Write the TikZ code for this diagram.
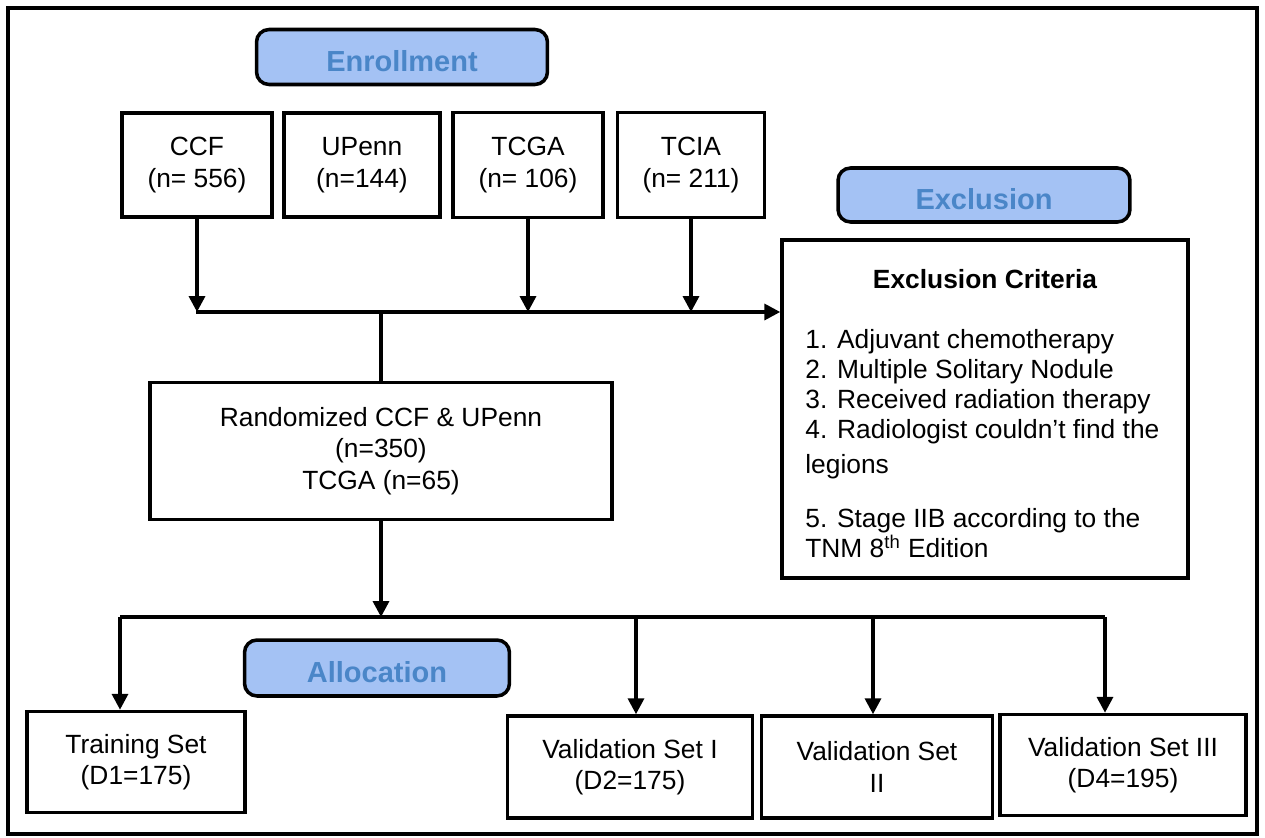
\documentclass[tikz,border=0pt]{standalone}
\usepackage{fontspec}
\setmainfont{Liberation Sans}
\usetikzlibrary{arrows.meta}
\definecolor{headfill}{RGB}{164,194,244}
\definecolor{headtext}{RGB}{74,134,200}

\begin{document}
\begin{tikzpicture}[x=0.02cm,y=-0.02cm,
		box/.style={draw,line width=2pt,align=center,inner sep=2pt,font=\fontsize{15}{18}\selectfont},
		phase/.style={draw,line width=2pt,rounded corners=2.5mm,fill=headfill,text=headtext,inner sep=0pt,text height=16pt,text depth=0pt,font=\fontsize{16.5}{18}\selectfont\bfseries},
		link/.style={line width=2pt},
		arr/.style={link,-{Triangle[width=9pt,length=9pt]}}]
		\useasboundingbox (0,0) rectangle (1265,838);
		\draw[line width=2pt] (8,8) rectangle (1257,834);
		% sources
		\coordinate (c_enr) at (402,57);
		\coordinate (c_ccf) at (197,165);
		\coordinate (c_upenn) at (362,165);
		\coordinate (c_tcga) at (528,165);
		\coordinate (c_tcia) at (691,165);
		\coordinate (c_exh) at (984,195);
		\coordinate (c_exc) at (985,409);
		\coordinate (c_rand) at (381,451);
		\coordinate (c_alloc) at (377,668);
		\coordinate (c_train) at (136,762);
		\coordinate (c_val1) at (630,767);
		\coordinate (c_val2) at (877,767);
		\coordinate (c_val3) at (1123,765);
		% bus lines
		\coordinate (bus) at (196,312);
		\coordinate (split) at (383,617);
		\coordinate (s_1) at (120,617);
		\coordinate (s_2) at (636,617);
		\coordinate (s_3) at (873,617);
		\coordinate (s_4) at (1105,617);

		\node[phase,minimum width=5.82cm,minimum height=1.1cm] (enr) at (c_enr) {Enrollment};
		\node[box,minimum width=3cm,minimum height=2.08cm] (ccf) at (c_ccf) {CCF\\(n= 556)};
		\node[box,minimum width=3.12cm,minimum height=2.08cm] (upenn) at (c_upenn) {UPenn\\(n=144)};
		\node[box,minimum width=3cm,minimum height=2.1cm] (tcga) at (c_tcga) {TCGA\\(n= 106)};
		\node[box,minimum width=2.94cm,minimum height=2.1cm] (tcia) at (c_tcia) {TCIA\\(n= 211)};
		\node[phase,minimum width=5.84cm,minimum height=1.08cm] (exh) at (c_exh) {Exclusion};
		\node[box,minimum width=8.12cm,minimum height=6.76cm] (exc) at (c_exc) {};
		\node[font=\fontsize{15}{18}\selectfont\bfseries] (exctitle) at (985,279) {Exclusion Criteria};
		\node[anchor=north west,align=left,inner sep=0pt,font=\fontsize{15}{17}\selectfont] (exclist) at (805,329)
			{1. Adjuvant chemotherapy\\2. Multiple Solitary Nodule\\3. Received radiation therapy\\4. Radiologist couldn’t find the\\[3pt]legions\\[14pt]5. Stage IIB according to the\\TNM 8\textsuperscript{th} Edition};
		\node[box,minimum width=9.24cm,minimum height=2.74cm] (rand) at (c_rand) {Randomized CCF \& UPenn\\(n=350)\\TCGA (n=65)};
		\node[phase,minimum width=5.3cm,minimum height=1.12cm] (alloc) at (c_alloc) {Allocation};
		\node[box,minimum width=4.36cm,minimum height=2.02cm] (train) at (c_train) {Training Set\\(D1=175)};
		\node[box,minimum width=4.9cm,minimum height=2.04cm] (val1) at (c_val1) {Validation Set I\\(D2=175)};
		\node[box,minimum width=4.62cm,minimum height=2.04cm] (val2) at (c_val2) {Validation Set\\II};
		\node[box,minimum width=4.92cm,minimum height=2.02cm] (val3) at (c_val3) {Validation Set III\\(D4=195)};

		% enrollment to exclusion
		\draw[arr] (ccf.south) -- (ccf.south |- bus);
		\draw[arr] (tcga.south) -- (tcga.south |- bus);
		\draw[arr] (tcia.south) -- (tcia.south |- bus);
		\draw[arr] (bus) -- (bus -| exc.west);
		\draw[link] (rand.north |- bus) -- (rand.north);
		% allocation
		\draw[arr] (rand.south) -- (rand.south |- split);
		\draw[link] (s_1) -- (s_4);
		\draw[arr] (s_1) -- (s_1 |- train.north);
		\draw[arr] (s_2) -- (s_2 |- val1.north);
		\draw[arr] (s_3) -- (s_3 |- val2.north);
		\draw[arr] (s_4) -- (s_4 |- val3.north);
	\end{tikzpicture}
\end{document}
